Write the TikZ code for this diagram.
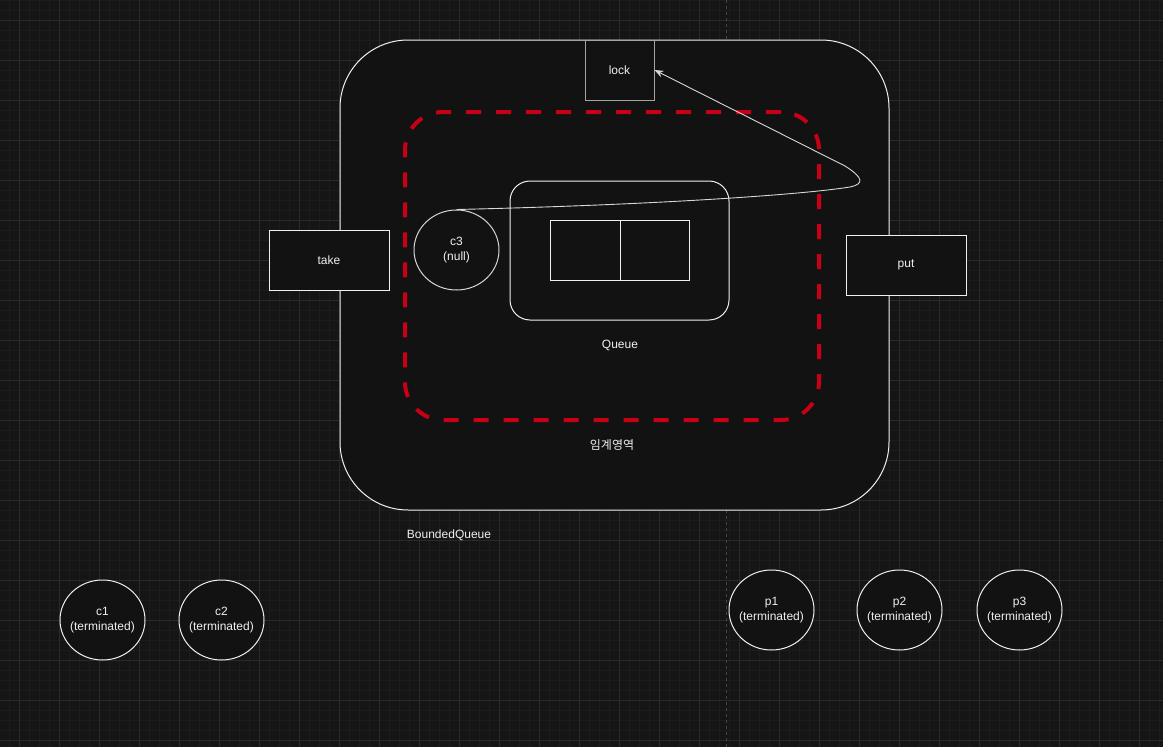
\documentclass[tikz,border=0pt]{standalone}
\usepackage{fontspec}
\setmainfont{Liberation Sans}
\newfontfamily\krfont{Noto Sans CJK KR}
\usetikzlibrary{shapes.geometric,arrows.meta}
\definecolor{bgc}{RGB}{21,21,21}
\definecolor{boxfill}{RGB}{18,18,18}
\definecolor{minorc}{RGB}{28,28,28}
\definecolor{majorc}{RGB}{42,42,42}
\definecolor{linec}{RGB}{240,240,240}
\definecolor{lockc}{RGB}{165,165,165}
\definecolor{connc}{RGB}{215,215,215}
\definecolor{critred}{RGB}{200,0,22}
\definecolor{pagec}{RGB}{70,70,70}
\begin{document}
\begin{tikzpicture}[x=1pt,y=-1pt,
  every node/.style={font=\fontsize{12}{15}\selectfont, text=linec},
  plainbox/.style={draw=linec, fill=boxfill, line width=1pt, rectangle, inner sep=0pt},
  procnode/.style={draw=linec, fill=boxfill, line width=1pt, ellipse, inner sep=0pt, minimum width=85pt, minimum height=80pt},
  proctext/.style={inner sep=0pt, align=center},
  labeltext/.style={inner sep=0pt},
  conn/.style={draw=connc, line width=0.9pt, -{Stealth[length=9pt,width=7pt]}}
]
\useasboundingbox (0,0) rectangle (1163,747);
\fill[bgc] (0,0) rectangle (1163,747);
% grid
\foreach \i in {0,...,116} \draw[minorc, line width=0.7pt] ({\i*10+9.5},0) -- ({\i*10+9.5},747);
\foreach \j in {0,...,74} \draw[minorc, line width=0.7pt] (0,{\j*10}) -- (1163,{\j*10});
\foreach \i in {0,...,28} \draw[majorc, line width=1pt] ({\i*40+19.5},0) -- ({\i*40+19.5},747);
\foreach \j in {0,...,18} \draw[majorc, line width=1pt] (0,{\j*40+20}) -- (1163,{\j*40+20});
% page break
\draw[pagec, line width=0.8pt, dash pattern=on 3pt off 3pt] (726.5,0) -- (726.5,747);

% BoundedQueue outer box
\node[plainbox, rounded corners=68pt, minimum width=549pt, minimum height=470pt] (bq) at (614.5,275) {};
\node[labeltext] (bqlabel) at (449,535) {BoundedQueue};

% lock
\node[draw=lockc, fill=boxfill, line width=1pt, rectangle, inner sep=0pt, minimum width=69pt, minimum height=60pt] (lock) at (619.5,70) {lock};

% critical section
\node[draw=critred, line width=4pt, dash pattern=on 15pt off 15pt, rectangle, rounded corners=38pt, minimum width=414pt, minimum height=308pt, inner sep=0pt] (crit) at (612,266) {};
\node[labeltext, font=\krfont\fontsize{12}{15}\selectfont] (critlabel) at (612,445) {임계영역};

% Queue
\node[plainbox, rounded corners=20pt, minimum width=219pt, minimum height=139pt] (queue) at (619.5,250.5) {};
\node[plainbox, minimum width=70pt, minimum height=60pt] (cell1) at (585,250) {};
\node[plainbox, minimum width=69pt, minimum height=60pt] (cell2) at (654.5,250) {};
\node[labeltext] (qlabel) at (620,345) {Queue};

% take / put
\node[plainbox, minimum width=120pt, minimum height=60pt] (take) at (329,260) {take};
\node[plainbox, minimum width=120pt, minimum height=60pt] (put) at (906,265) {put};

% c3
\node[procnode, draw=connc] (c3) at (456.5,250) {};
\node[proctext] (c3t) at (c3.center) {c3\\(null)};

% connector
\draw[conn] (c3.north) .. controls (650,205) and (800,195) .. (850,187)
  .. controls (864,184) and (864,178) .. (845,166) -- (lock.east);

% terminated threads
\node[procnode] (c1) at (102.5,620) {};
\node[proctext] (c1t) at (c1.center) {c1\\(terminated)};
\node[procnode] (c2) at (221.5,620) {};
\node[proctext] (c2t) at (c2.center) {c2\\(terminated)};
\node[procnode] (p1) at (771.5,610) {};
\node[proctext] (p1t) at (p1.center) {p1\\(terminated)};
\node[procnode] (p2) at (899.5,610) {};
\node[proctext] (p2t) at (p2.center) {p2\\(terminated)};
\node[procnode] (p3) at (1019.5,610) {};
\node[proctext] (p3t) at (p3.center) {p3\\(terminated)};
\end{tikzpicture}
\end{document}
